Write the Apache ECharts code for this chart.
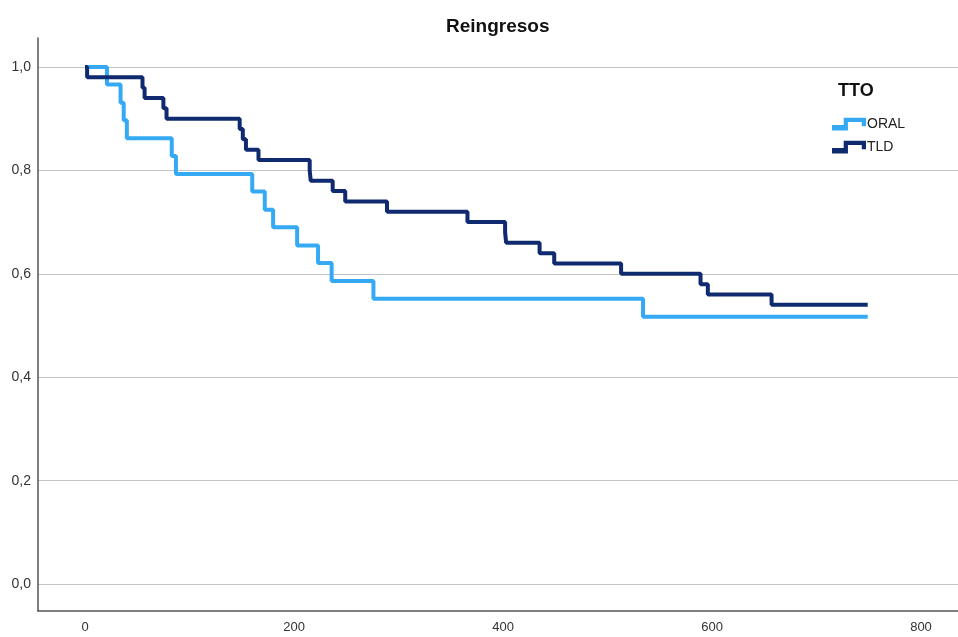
<!DOCTYPE html>
<html>
<head>
<meta charset="utf-8">
<script src="https://cdn.jsdelivr.net/npm/echarts@6/dist/echarts.min.js"></script>
<style>
html,body{margin:0;padding:0;background:#fff;}
#chart{width:958px;height:637px;}
</style>
</head>
<body>
<div id="chart"></div>
<script>
// Kaplan-Meier step data
var oralTime = [0, 21, 34, 37, 40, 83, 87, 160, 172, 180, 203, 223, 236, 276, 534, 749];
var oralSurv = [1, 0.966, 0.931, 0.897, 0.862, 0.828, 0.793, 0.759, 0.724, 0.690, 0.655, 0.621, 0.586, 0.552, 0.517, 0.517];

var tldTime = [0, 2, 55, 57, 75, 78, 148, 151, 154, 166, 215, 216, 237, 249, 289, 366, 402, 403, 435, 449, 513, 589, 596, 657, 749];
var tldSurv = [1, 0.98, 0.96, 0.94, 0.92, 0.90, 0.88, 0.86, 0.84, 0.82, 0.80, 0.78, 0.76, 0.74, 0.72, 0.70, 0.68, 0.66, 0.64, 0.62, 0.60, 0.58, 0.56, 0.54, 0.54];

var xTicks = [0, 200, 400, 600, 800];
var yTicks = [0, 0.2, 0.4, 0.6, 0.8, 1.0];
var seriesNames = ['ORAL', 'TLD'];
var chartTitle = 'Reingresos';
var legendTitle = 'TTO';

function pairs(t, s) { return t.map(function (v, i) { return [v, s[i]]; }); }

var stepIcon = 'path://M0,7 L11,7 L11,0 L32,0 L32,8 L28,8 L28,4 L15,4 L15,12 L0,12 Z';

var chart = echarts.init(document.getElementById('chart'), null, {renderer: 'canvas'});
chart.setOption({
  backgroundColor: '#ffffff',
  animation: false,
  title: [
    {text: chartTitle, left: 441, top: 12,
     textStyle: {fontFamily: 'Liberation Sans, Arial, sans-serif', fontSize: 19, fontWeight: 'bold', color: '#111'}},
    {text: legendTitle, left: 833, top: 77,
     textStyle: {fontFamily: 'Liberation Sans, Arial, sans-serif', fontSize: 18, fontWeight: 'bold', color: '#111'}}
  ],
  legend: {
    orient: 'vertical', left: 827, top: 112,
    itemWidth: 34, itemHeight: 13, itemGap: 9,
    icon: stepIcon,
    textStyle: {fontFamily: 'Liberation Sans, Arial, sans-serif', fontSize: 14, color: '#222', padding: [0, 0, 0, -4]},
    data: seriesNames
  },
  grid: {left: 38, right: 0, top: 38, bottom: 26, containLabel: false},
  xAxis: {
    type: 'value', min: -45, max: 835.4,
    axisLine: {show: true, onZero: false, lineStyle: {color: '#555', width: 1.5}},
    axisTick: {show: false, customValues: xTicks},
    splitLine: {show: false},
    axisLabel: {customValues: xTicks, margin: 10,
      fontFamily: 'Liberation Sans, Arial, sans-serif', fontSize: 13, color: '#333'}
  },
  yAxis: {
    type: 'value', min: -0.052, max: 1.056,
    axisLine: {show: true, onZero: false, lineStyle: {color: '#555', width: 1.5}},
    axisTick: {show: false, customValues: yTicks},
    splitLine: {show: true, lineStyle: {color: '#c4c4c4', width: 1.2}},
    axisLabel: {customValues: yTicks, margin: 7,
      fontFamily: 'Liberation Sans, Arial, sans-serif', fontSize: 14, color: '#333',
      formatter: function (v) { return v.toFixed(1).replace('.', ','); }}
  },
  series: [
    {name: seriesNames[0], type: 'line', step: 'end', data: pairs(oralTime, oralSurv),
     showSymbol: false, symbol: 'none', color: '#35a9f4',
     lineStyle: {color: '#35a9f4', width: 4}, z: 2},
    {name: seriesNames[1], type: 'line', step: 'end', data: pairs(tldTime, tldSurv),
     showSymbol: false, symbol: 'none', color: '#0f2a6e',
     lineStyle: {color: '#0f2a6e', width: 4}, z: 3}
  ]
});
</script>
</body>
</html>
